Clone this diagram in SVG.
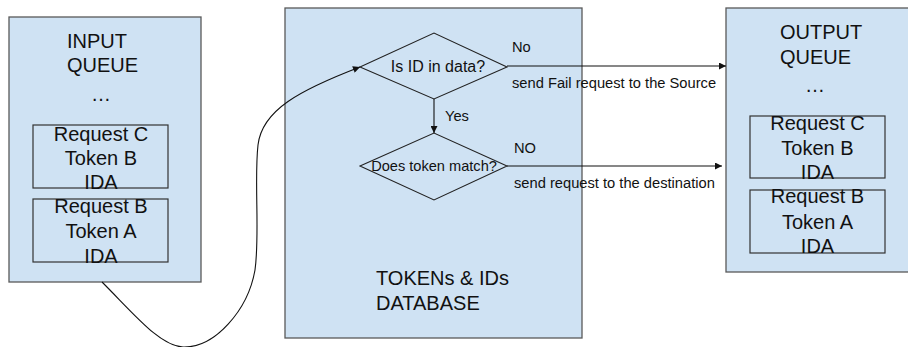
<svg xmlns="http://www.w3.org/2000/svg" width="908" height="347" viewBox="0 0 908 347">
<style>
.panel{fill:#cfe2f3;stroke:#595959;stroke-width:1.3}
.req{fill:none;stroke:#333333;stroke-width:1.2}
.dia{fill:none;stroke:#222222;stroke-width:1.1}
.big{font-family:"Liberation Sans",Arial,sans-serif;font-size:20px;fill:#111111}
.mid{font-family:"Liberation Sans",Arial,sans-serif;font-size:16px;fill:#111111}
.dq{font-family:"Liberation Sans",Arial,sans-serif;font-size:14.6px;fill:#111111}
.lbl{font-family:"Liberation Sans",Arial,sans-serif;font-size:14.7px;fill:#111111}
.c{text-anchor:middle}
.edge{fill:none;stroke:#111111;stroke-width:1.1}
</style>
<defs>
<marker id="arr" markerUnits="userSpaceOnUse" viewBox="0 0 10 10" refX="10" refY="5" markerWidth="8" markerHeight="7" orient="auto">
<path d="M0,0 L10,5 L0,10 z" fill="#111111"/>
</marker>
</defs>

<g id="input-queue">
<rect class="panel" x="9" y="17" width="192" height="265"/>
<text class="big" x="67" y="48">INPUT</text>
<text class="big" x="67" y="72">QUEUE</text>
<text class="big" x="91" y="101">…</text>
</g>
<g id="input-request-c">
<rect class="req" x="33" y="125" width="135" height="63"/>
<text class="big c" x="101" y="141">Request C</text>
<text class="big c" x="101" y="165">Token B</text>
<text class="big c" x="101" y="189">IDA</text>
</g>
<g id="input-request-b">
<rect class="req" x="33" y="199" width="135" height="63"/>
<text class="big c" x="101" y="213">Request B</text>
<text class="big c" x="101" y="238">Token A</text>
<text class="big c" x="101" y="263">IDA</text>
</g>

<g id="database">
<rect class="panel" x="285" y="8" width="297" height="330"/>
<text class="big" x="376" y="285">TOKENs &amp; IDs</text>
<text class="big" x="376" y="310">DATABASE</text>
</g>

<g id="decision-id">
<polygon class="dia" points="360,67 434,33 507,67 434,99"/>
<text class="mid c" x="438" y="72">Is ID in data?</text>
</g>
<g id="decision-token">
<polygon class="dia" points="360,166 434,133 507,166 434,200"/>
<text class="dq c" x="434" y="171">Does token match?</text>
</g>

<g id="output-queue">
<rect class="panel" x="726" y="8" width="200" height="264"/>
<text class="big" x="780" y="39">OUTPUT</text>
<text class="big" x="780" y="64">QUEUE</text>
<text class="big" x="805" y="92">…</text>
</g>
<g id="output-request-c">
<rect class="req" x="750" y="116" width="135" height="62"/>
<text class="big c" x="817.5" y="130">Request C</text>
<text class="big c" x="817.5" y="155">Token B</text>
<text class="big c" x="817.5" y="179">IDA</text>
</g>
<g id="output-request-b">
<rect class="req" x="750" y="190" width="135" height="63"/>
<text class="big c" x="817.5" y="203">Request B</text>
<text class="big c" x="817.5" y="229">Token A</text>
<text class="big c" x="817.5" y="253">IDA</text>
</g>

<g id="connectors">
<path class="edge" d="M102,282 C135,315 160,346 183,347 C215,348 248,310 255,270 C260,235 254,180 258,145 C262,110 300,90 360,67" marker-end="url(#arr)"/>
<line class="edge" x1="434" y1="99" x2="434" y2="133" marker-end="url(#arr)"/>
<line class="edge" x1="507" y1="66" x2="726" y2="66" marker-end="url(#arr)"/>
<line class="edge" x1="507" y1="166" x2="722" y2="166" marker-end="url(#arr)"/>
<text class="lbl" x="445" y="121">Yes</text>
<text class="lbl" x="512" y="52">No</text>
<text class="lbl" x="512" y="88">send Fail request to the Source</text>
<text class="lbl" x="514" y="153">NO</text>
<text class="lbl" x="514" y="188">send request to the destination</text>
</g>
</svg>
